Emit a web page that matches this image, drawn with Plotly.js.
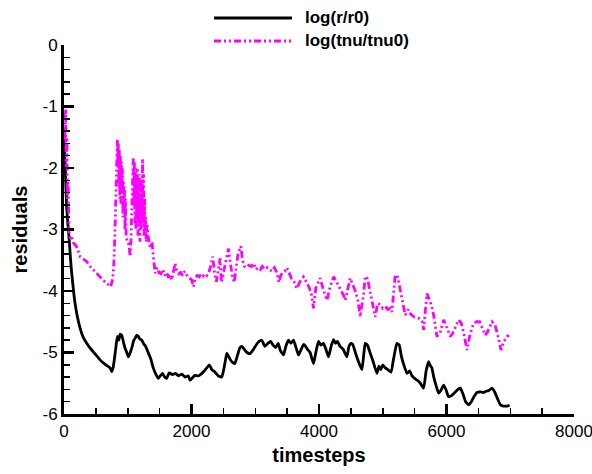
<!DOCTYPE html>
<html>
<head>
<meta charset="utf-8">
<script src="https://cdn.plot.ly/plotly-3.0.1.min.js"></script>
<style>html,body{margin:0;padding:0;background:#fff;}#chart{width:592px;height:474px;}</style>
</head>
<body>
<div id="chart"></div>
<script>
// log(r/r0)
const rSteps = [0,20,40,60,84,100,120,150,173,210,251,300,356,410,460,510,565,640,722,748,770,785,810,837,860,880,905,930,958,985,1010,1040,1070,1095,1115,1140,1167,1190,1220,1250,1280,1320,1360,1400,1440,1481,1510,1545,1580,1610,1650,1700,1750,1800,1850,1900,1950,1978,2010,2050,2100,2150,2200,2240,2280,2320,2370,2420,2475,2520,2554,2600,2633,2680,2720,2760,2790,2830,2870,2920,2970,3020,3060,3103,3150,3200,3240,3280,3320,3360,3391,3443,3480,3521,3560,3600,3640,3678,3720,3757,3790,3820,3860,3914,3950,3992,4030,4070,4110,4149,4190,4228,4260,4290,4330,4380,4437,4470,4499,4530,4570,4620,4673,4700,4725,4760,4800,4850,4909,4940,4970,5000,5040,5080,5130,5170,5222,5260,5290,5330,5380,5420,5460,5500,5540,5590,5641,5680,5719,5750,5770,5800,5840,5876,5920,5955,5990,6033,6080,6130,6180,6217,6260,6300,6347,6390,6430,6479,6530,6580,6620,6660,6714,6760,6800,6845,6890,6950,6990];
const rVals = [-1.5,-2.0,-2.6,-2.9,-3.2,-3.45,-3.7,-4.0,-4.2,-4.42,-4.6,-4.75,-4.85,-4.93,-4.99,-5.05,-5.12,-5.19,-5.25,-5.31,-5.25,-5.15,-4.95,-4.74,-4.8,-4.7,-4.72,-4.82,-4.93,-5.0,-5.07,-5.0,-4.9,-4.8,-4.77,-4.72,-4.74,-4.78,-4.8,-4.86,-4.9,-5.0,-5.1,-5.25,-5.35,-5.42,-5.38,-5.34,-5.4,-5.42,-5.33,-5.36,-5.34,-5.38,-5.35,-5.4,-5.38,-5.45,-5.42,-5.37,-5.38,-5.35,-5.3,-5.25,-5.2,-5.28,-5.32,-5.38,-5.4,-5.2,-5.01,-5.1,-5.15,-5.18,-5.05,-4.92,-4.9,-4.95,-5.0,-5.02,-4.95,-4.87,-4.82,-4.8,-4.9,-4.85,-4.82,-4.88,-4.92,-4.85,-4.96,-5.04,-4.9,-4.8,-4.85,-4.8,-4.92,-5.04,-4.95,-4.87,-4.9,-4.95,-5.0,-5.18,-5.0,-4.82,-4.88,-4.85,-4.95,-5.07,-4.9,-4.79,-4.85,-4.82,-4.9,-4.95,-5.07,-4.9,-4.85,-4.87,-5.0,-5.15,-5.28,-5.05,-4.85,-4.88,-5.0,-5.15,-5.34,-5.22,-5.28,-5.2,-5.25,-5.28,-5.32,-5.1,-4.85,-4.88,-5.05,-5.2,-5.34,-5.3,-5.38,-5.42,-5.45,-5.5,-5.58,-5.3,-5.15,-5.22,-5.25,-5.4,-5.55,-5.66,-5.6,-5.53,-5.6,-5.72,-5.7,-5.65,-5.6,-5.58,-5.68,-5.8,-5.85,-5.8,-5.72,-5.65,-5.64,-5.65,-5.63,-5.62,-5.58,-5.65,-5.75,-5.85,-5.87,-5.87,-5.86];

// log(tnu/tnu0)
const tSteps = [0,15,25,35,45,55,65,80,100,120,150,199,251,300,356,410,460,510,565,620,670,733,765,785,800,816,827,837,845,852,860,868,876,884,892,900,908,916,924,932,940,948,956,964,975,990,1010,1025,1036,1050,1065,1080,1088,1096,1104,1112,1120,1128,1136,1144,1152,1160,1168,1176,1184,1192,1200,1208,1216,1224,1232,1240,1248,1256,1264,1272,1280,1290,1300,1320,1340,1360,1380,1402,1429,1460,1490,1520,1550,1580,1610,1640,1670,1690,1715,1743,1770,1800,1830,1860,1890,1920,1950,1980,2005,2030,2060,2090,2120,2150,2180,2210,2240,2270,2300,2334,2360,2390,2420,2449,2470,2500,2540,2580,2610,2640,2670,2700,2730,2753,2775,2800,2830,2860,2900,2940,2980,3010,3050,3080,3110,3150,3190,3220,3260,3300,3340,3370,3400,3430,3460,3496,3530,3570,3610,3653,3700,3757,3800,3850,3880,3914,3950,3990,4019,4060,4090,4124,4170,4228,4260,4300,4350,4390,4411,4450,4490,4530,4570,4610,4647,4670,4700,4725,4760,4800,4840,4882,4920,4960,5000,5040,5080,5120,5144,5170,5196,5230,5270,5310,5353,5400,5440,5490,5537,5580,5620,5641,5694,5720,5760,5800,5850,5900,5955,6000,6060,6100,6150,6190,6230,6270,6322,6370,6425,6470,6520,6560,6609,6650,6714,6760,6800,6855,6900,6950,6980];
const tVals = [-1.1,-1.6,-1.05,-2.0,-1.5,-2.5,-2.2,-3.05,-3.15,-3.12,-3.22,-3.28,-3.44,-3.48,-3.52,-3.6,-3.66,-3.72,-3.77,-3.83,-3.87,-3.93,-3.8,-3.5,-3.0,-2.52,-1.9,-1.54,-1.9,-1.6,-2.3,-1.7,-2.5,-1.8,-2.6,-1.9,-2.4,-2.0,-2.8,-2.2,-2.6,-2.3,-3.0,-2.5,-3.1,-3.2,-3.22,-3.3,-3.44,-3.2,-2.6,-2.0,-1.82,-2.6,-1.9,-2.9,-2.0,-3.0,-2.2,-2.8,-2.0,-3.1,-2.3,-2.9,-2.1,-3.2,-2.5,-3.0,-2.2,-2.9,-1.85,-2.7,-2.1,-3.1,-2.5,-3.0,-2.8,-3.2,-2.9,-3.1,-3.25,-3.3,-3.2,-3.44,-3.71,-3.62,-3.7,-3.72,-3.65,-3.75,-3.7,-3.78,-3.74,-3.82,-3.7,-3.55,-3.68,-3.72,-3.7,-3.75,-3.68,-3.74,-3.78,-3.8,-3.82,-3.93,-3.78,-3.75,-3.77,-3.73,-3.76,-3.72,-3.75,-3.7,-3.6,-3.44,-3.7,-3.85,-3.65,-3.47,-3.86,-3.7,-3.5,-3.31,-3.55,-3.75,-3.86,-3.6,-3.4,-3.33,-3.27,-3.5,-3.6,-3.62,-3.58,-3.6,-3.55,-3.65,-3.62,-3.65,-3.6,-3.65,-3.62,-3.65,-3.68,-3.62,-3.7,-3.86,-3.75,-3.7,-3.68,-3.62,-3.7,-3.8,-3.85,-3.96,-3.85,-3.77,-3.85,-3.95,-4.05,-4.28,-3.95,-3.85,-3.79,-3.95,-4.05,-4.15,-3.95,-3.77,-3.82,-3.9,-4.0,-4.08,-4.15,-3.95,-3.79,-3.9,-4.0,-4.15,-4.42,-4.25,-4.05,-3.76,-3.8,-4.0,-4.2,-4.42,-4.2,-4.22,-4.28,-4.25,-4.3,-4.28,-4.34,-4.0,-3.74,-3.75,-3.95,-4.2,-4.39,-4.3,-4.38,-4.42,-4.44,-4.45,-4.5,-4.63,-4.04,-4.1,-4.22,-4.4,-4.74,-4.68,-4.47,-4.58,-4.74,-4.68,-4.55,-4.47,-4.52,-4.68,-4.96,-4.7,-4.53,-4.5,-4.5,-4.6,-4.72,-4.65,-4.5,-4.55,-4.7,-4.96,-4.82,-4.74,-4.72];

const seriesNames = ['log(r/r0)', 'log(tnu/tnu0)'];
const seriesColors = ['#000000', '#ff00ff'];
const seriesDash = ['solid', '7px,3px,2px,3px,2px,3px'];
const xTickVals = [0, 2000, 4000, 6000, 8000];
const yTickVals = [-6, -5, -4, -3, -2, -1, 0];

const traces = [
  {x: rSteps, y: rVals, name: seriesNames[0], type: 'scatter', mode: 'lines',
   line: {color: seriesColors[0], width: 2.8, shape: 'spline', smoothing: 0.4}},
  {x: tSteps, y: tVals, name: seriesNames[1], type: 'scatter', mode: 'lines',
   line: {color: seriesColors[1], width: 2.8, dash: seriesDash[1]}}
];

const fam = 'Liberation Sans, Arial, sans-serif';
const axisFont = {family: fam, size: 17, color: '#000'};
const titleFont = {family: fam, size: 20, color: '#000', weight: 'bold'};

// legend drawn in paper coordinates (plot area: 510 px wide, 369 px tall)
const legShapes = [], legAnn = [];
const legRowsY = [1 + 27 / 369, 1 + 4 / 369];
const lx0 = (214 - 64) / 510, lx1 = (292 - 64) / 510, ltx = (303 - 64) / 510;
seriesNames.forEach((n, i) => {
  legShapes.push({type: 'line', xref: 'paper', yref: 'paper', x0: lx0, x1: lx1, y0: legRowsY[i], y1: legRowsY[i],
    line: {color: seriesColors[i], width: 2.8, dash: seriesDash[i]}});
  legAnn.push({xref: 'paper', yref: 'paper', x: ltx, y: legRowsY[i], xanchor: 'left', yanchor: 'middle',
    text: n, showarrow: false, font: {family: fam, size: 17, color: '#000', weight: 'bold'}});
});

const layout = {
  width: 592, height: 474,
  margin: {l: 64, r: 18, t: 45, b: 60},
  paper_bgcolor: '#fff', plot_bgcolor: '#fff',
  showlegend: false,
  shapes: legShapes,
  annotations: legAnn,
  xaxis: {range: [0, 8000], tickvals: xTickVals, ticktext: xTickVals.map(String),
    showline: true, linecolor: '#000', linewidth: 3, mirror: false,
    ticks: 'inside', ticklen: 10, tickwidth: 2.5, tickcolor: '#000',
    minor: {dtick: 500, ticks: 'inside', ticklen: 6, tickwidth: 1.5, tickcolor: '#000', showgrid: false},
    showgrid: false, zeroline: false, tickfont: axisFont, ticklabeloverflow: 'allow',
    title: {text: 'timesteps', font: titleFont, standoff: 8}},
  yaxis: {range: [-6, 0], tickvals: yTickVals, ticktext: yTickVals.map(String),
    showline: true, linecolor: '#000', linewidth: 3, mirror: false,
    ticks: 'inside', ticklen: 10, tickwidth: 2.5, tickcolor: '#000',
    minor: {dtick: 0.2, ticks: 'inside', ticklen: 6, tickwidth: 1.5, tickcolor: '#000', showgrid: false},
    showgrid: false, zeroline: false, tickfont: axisFont, ticklabeloverflow: 'allow',
    title: {text: 'residuals', font: titleFont, standoff: 10}}
};

Plotly.newPlot('chart', traces, layout, {displayModeBar: false, staticPlot: true});
</script>
</body>
</html>
